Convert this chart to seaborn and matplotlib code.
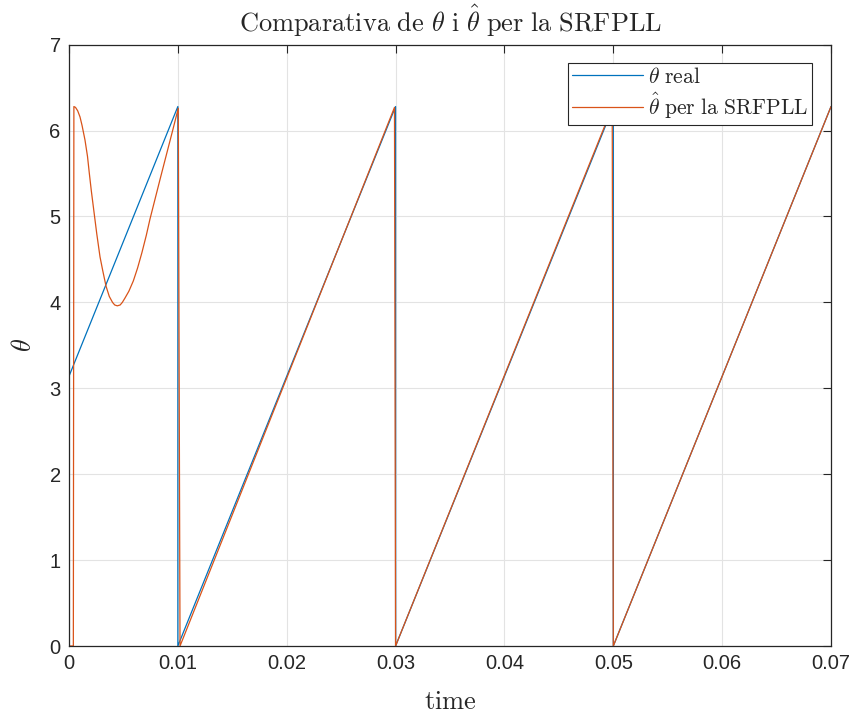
import matplotlib
matplotlib.use("Agg")
import matplotlib.pyplot as plt
import seaborn as sns
import pandas as pd

# Data
t_real = [0.0, 0.01, 0.01, 0.03, 0.03, 0.05, 0.05, 0.07]
theta_real = [3.14, 6.28, 0.0, 6.28, 0.0, 6.28, 0.0, 6.28]

t_est = [0.0, 0.0004, 0.00045, 0.0006, 0.0008, 0.00101, 0.0012, 0.00147,
         0.0017, 0.00187, 0.00205, 0.00224, 0.00255, 0.00285, 0.0031, 0.0034,
         0.0037, 0.004, 0.0042, 0.00444, 0.0047, 0.0049, 0.00514, 0.0055,
         0.00591, 0.0063, 0.0067, 0.0071, 0.00744, 0.0079, 0.0084, 0.00897,
         0.0095, 0.01004, 0.0102, 0.0299, 0.03, 0.0499, 0.05, 0.07]
theta_est = [0.0, 0.0, 6.28, 6.27, 6.23, 6.16, 6.06, 5.89,
             5.70, 5.50, 5.30, 5.11, 4.80, 4.53, 4.37, 4.19,
             4.07, 4.00, 3.97, 3.96, 3.97, 4.00, 4.05, 4.13,
             4.25, 4.40, 4.58, 4.78, 4.97, 5.20, 5.45, 5.73,
             5.99, 6.26, 0.0, 6.27, 0.0, 6.27, 0.0, 6.28]

x_ticks = [0, 0.01, 0.02, 0.03, 0.04, 0.05, 0.06, 0.07]
x_tick_labels = ["0", "0.01", "0.02", "0.03", "0.04", "0.05", "0.06", "0.07"]
y_ticks = [0, 1, 2, 3, 4, 5, 6, 7]

sns.set_style("white")
plt.rcParams["font.family"] = ["Liberation Sans", "DejaVu Sans"]
plt.rcParams["mathtext.fontset"] = "cm"

df_real = pd.DataFrame({"t": t_real, "theta": theta_real})
df_est = pd.DataFrame({"t": t_est, "theta": theta_est})

fig = plt.figure(figsize=(8.57, 7.15), dpi=100)
ax = fig.add_axes([0.0805, 0.0965, 0.8892, 0.8410])

blue = "#0072BD"
orange = "#D95319"
sns.lineplot(data=df_real, x="t", y="theta", sort=False, estimator=None,
             color=blue, lw=0.9, ax=ax, label=r"$\theta\ \mathrm{real}$")
sns.lineplot(data=df_est, x="t", y="theta", sort=False, estimator=None,
             color=orange, lw=0.9, ax=ax,
             label=r"$\hat{\theta}\ \mathrm{per\ la\ SRFPLL}$")

ax.set_xlim(0, 0.07)
ax.set_ylim(0, 7)
ax.set_xticks(x_ticks)
ax.set_xticklabels(x_tick_labels)
ax.set_yticks(y_ticks)
ax.grid(True, color="#e3e3e3", lw=0.8)
ax.set_axisbelow(True)
for s in ax.spines.values():
    s.set_color("#262626")
    s.set_linewidth(0.9)
ax.tick_params(direction="in", length=6, width=0.8, colors="#262626",
               labelsize=14.5, top=True, right=True, pad=6)

ax.set_title(r"$\mathrm{Comparativa\ de\ }\theta\mathrm{\ i\ }\hat{\theta}\mathrm{\ per\ la\ SRFPLL}$",
             fontsize=19, pad=9)
ax.set_xlabel(r"$\mathrm{time}$", fontsize=19, labelpad=12)
ax.set_ylabel(r"$\theta$", fontsize=19, labelpad=10)

leg = ax.legend(loc="upper right", bbox_to_anchor=(0.975, 0.97), fontsize=15.5,
                frameon=True, fancybox=False, edgecolor="#262626",
                handlelength=3.3, handletextpad=0.2, borderpad=0.2,
                labelspacing=0.12, borderaxespad=0)
leg.get_frame().set_linewidth(0.8)
leg.get_frame().set_alpha(1)

fig.savefig("out.png", dpi=100)
